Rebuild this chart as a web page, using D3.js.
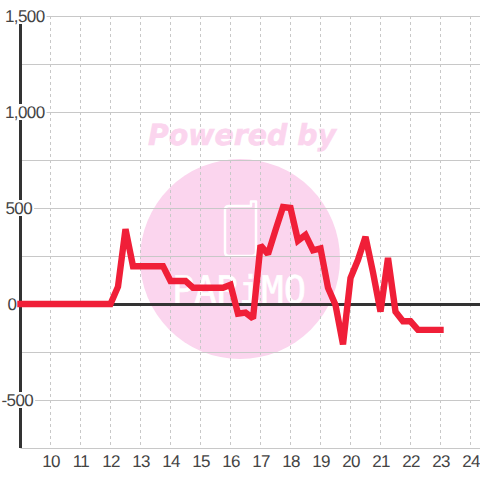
<!DOCTYPE html>
<html>
<head>
<meta charset="utf-8">
<title>Line chart</title>
<script src="https://cdn.jsdelivr.net/npm/d3@7"></script>
<style>
  html, body { margin: 0; padding: 0; background: #fff; }
  svg { display: block; }
  text { font-family: "Liberation Sans", Arial, sans-serif; text-rendering: geometricPrecision; }
</style>
</head>
<body>
<script>
var hours = [9, 9.25, 9.5, 9.75, 10, 10.25, 10.5, 10.75, 11, 11.25, 11.5, 11.75, 12, 12.25, 12.5, 12.75,
  13, 13.25, 13.5, 13.75, 14, 14.25, 14.5, 14.75, 15, 15.25, 15.5, 15.75, 16, 16.25, 16.5, 16.75,
  17, 17.25, 17.5, 17.75, 18, 18.25, 18.5, 18.75, 19, 19.25, 19.5, 19.75, 20, 20.25, 20.5, 20.75,
  21, 21.25, 21.5, 21.75, 22, 22.25, 22.5, 22.75, 23];
var values = [0, 0, 0, 0, 0, 0, 0, 0, 0, 0, 0, 0, 0, 90, 390, 197,
  197, 197, 197, 197, 120, 120, 120, 85, 85, 85, 85, 85, 100, -50, -45, -75,
  305, 260, 385, 505, 500, 330, 360, 280, 290, 85, -5, -210, 135, 230, 350, 165,
  -40, 240, -40, -90, -90, -135, -135, -135, -135];
var xTicks = [10, 11, 12, 13, 14, 15, 16, 17, 18, 19, 20, 21, 22, 23, 24];
var yLabelled = [1500, 1000, 500, 0, -500];
var yGrid = [1500, 1250, 1000, 750, 500, 250, 0, -250, -500, -750];

var width = 480, height = 480;
var x = d3.scaleLinear().domain([9, 24]).range([20.5, 470.5]);
var y = d3.scaleLinear().domain([1500, -750]).range([16, 448]);
var fmt = d3.format(",");

var svg = d3.select("body").append("svg")
  .attr("width", width)
  .attr("height", height);

// watermark sits under the grid
var mark = svg.append("g");
mark.append("text")
  .attr("x", 148).attr("y", 144.5)
  .attr("textLength", 188)
  .attr("lengthAdjust", "spacingAndGlyphs")
  .style("font-family", "DejaVu Sans")
  .style("font-weight", "bold")
  .style("font-style", "italic")
  .style("font-size", "29px")
  .attr("fill", "#fbd5ee")
  .attr("stroke", "#fbd5ee")
  .attr("stroke-width", 0.6)
  .text("Powered by");
mark.append("circle")
  .attr("cx", 240).attr("cy", 259).attr("r", 100)
  .attr("fill", "#fbd5ee");
mark.append("path")
  .attr("d", "M229 206H251V201.5H256V252Q256 256 252 256H229Q225 256 225 252V210Q225 206 229 206Z")
  .attr("fill", "none")
  .attr("stroke", "#fff")
  .attr("stroke-width", 2.5)
  .attr("stroke-linejoin", "round");
mark.append("text")
  .attr("x", 172).attr("y", 303)
  .attr("textLength", 134)
  .attr("lengthAdjust", "spacingAndGlyphs")
  .attr("fill", "#fff")
  .attr("stroke", "#fff")
  .attr("stroke-width", 0.6)
  .style("font-family", "DejaVu Sans Mono")
  .style("font-size", "38px")
  .text("PARiMO");

// grid
svg.append("g").selectAll("line").data(yGrid).enter().append("line")
  .attr("x1", 20.5).attr("x2", width)
  .attr("y1", function(d){ return y(d) + 0.5; })
  .attr("y2", function(d){ return y(d) + 0.5; })
  .attr("stroke", "#c8c8c8");
svg.append("g").selectAll("line").data(xTicks).enter().append("line")
  .attr("x1", function(d){ return x(d); })
  .attr("x2", function(d){ return x(d); })
  .attr("y1", y(1500)).attr("y2", y(-750))
  .attr("stroke", "#c8c8c8")
  .attr("stroke-dasharray", "3,3");

// axis lines
svg.append("line")
  .attr("x1", x(9)).attr("x2", x(9))
  .attr("y1", y(1500)).attr("y2", y(-750))
  .attr("stroke", "#333").attr("stroke-width", 3);
svg.append("line")
  .attr("x1", x(9)).attr("x2", width)
  .attr("y1", y(0) + 0.5).attr("y2", y(0) + 0.5)
  .attr("stroke", "#333").attr("stroke-width", 3);

// y labels knock out the axis behind them
var labelStart = function(d){
  if (d < 0) return 1.5;
  if (d === 0) return 7.5;
  return d < 1000 ? 5.5 : 5;
};
var yLab = svg.append("g").selectAll("g").data(yLabelled).enter().append("g");
var yBack = yLab.append("rect")
  .attr("y", function(d){ return y(d) - 8; })
  .attr("height", 16)
  .attr("fill", "#fff");
var yText = yLab.append("text")
  .attr("x", labelStart)
  .attr("y", function(d){ return y(d) + 6; })
  .attr("fill", "#444")
  .style("font-size", "17px")
  .style("letter-spacing", "-0.6px")
  .text(function(d){ return fmt(d).replace("−", "-"); });
yBack.attr("x", 0)
  .attr("width", function(d, i){
    return labelStart(d) + yText.nodes()[i].getComputedTextLength() + 2;
  });

svg.append("g").selectAll("text").data(xTicks).enter().append("text")
  .attr("x", function(d){ return x(d) + 0.5; })
  .attr("y", 467)
  .attr("text-anchor", "middle")
  .attr("fill", "#444")
  .style("font-size", "17px")
  .style("letter-spacing", "-0.6px")
  .text(function(d){ return d; });

// series
var line = d3.line()
  .x(function(d){ return x(d[0]); })
  .y(function(d){ return y(d[1]); });
svg.append("path")
  .datum(d3.zip(hours, values))
  .attr("d", line)
  .attr("fill", "none")
  .attr("stroke", "#f01f38")
  .attr("stroke-width", 6.4)
  .attr("stroke-linecap", "square")
  .attr("stroke-linejoin", "miter")
  .attr("stroke-miterlimit", 2);
</script>
</body>
</html>
